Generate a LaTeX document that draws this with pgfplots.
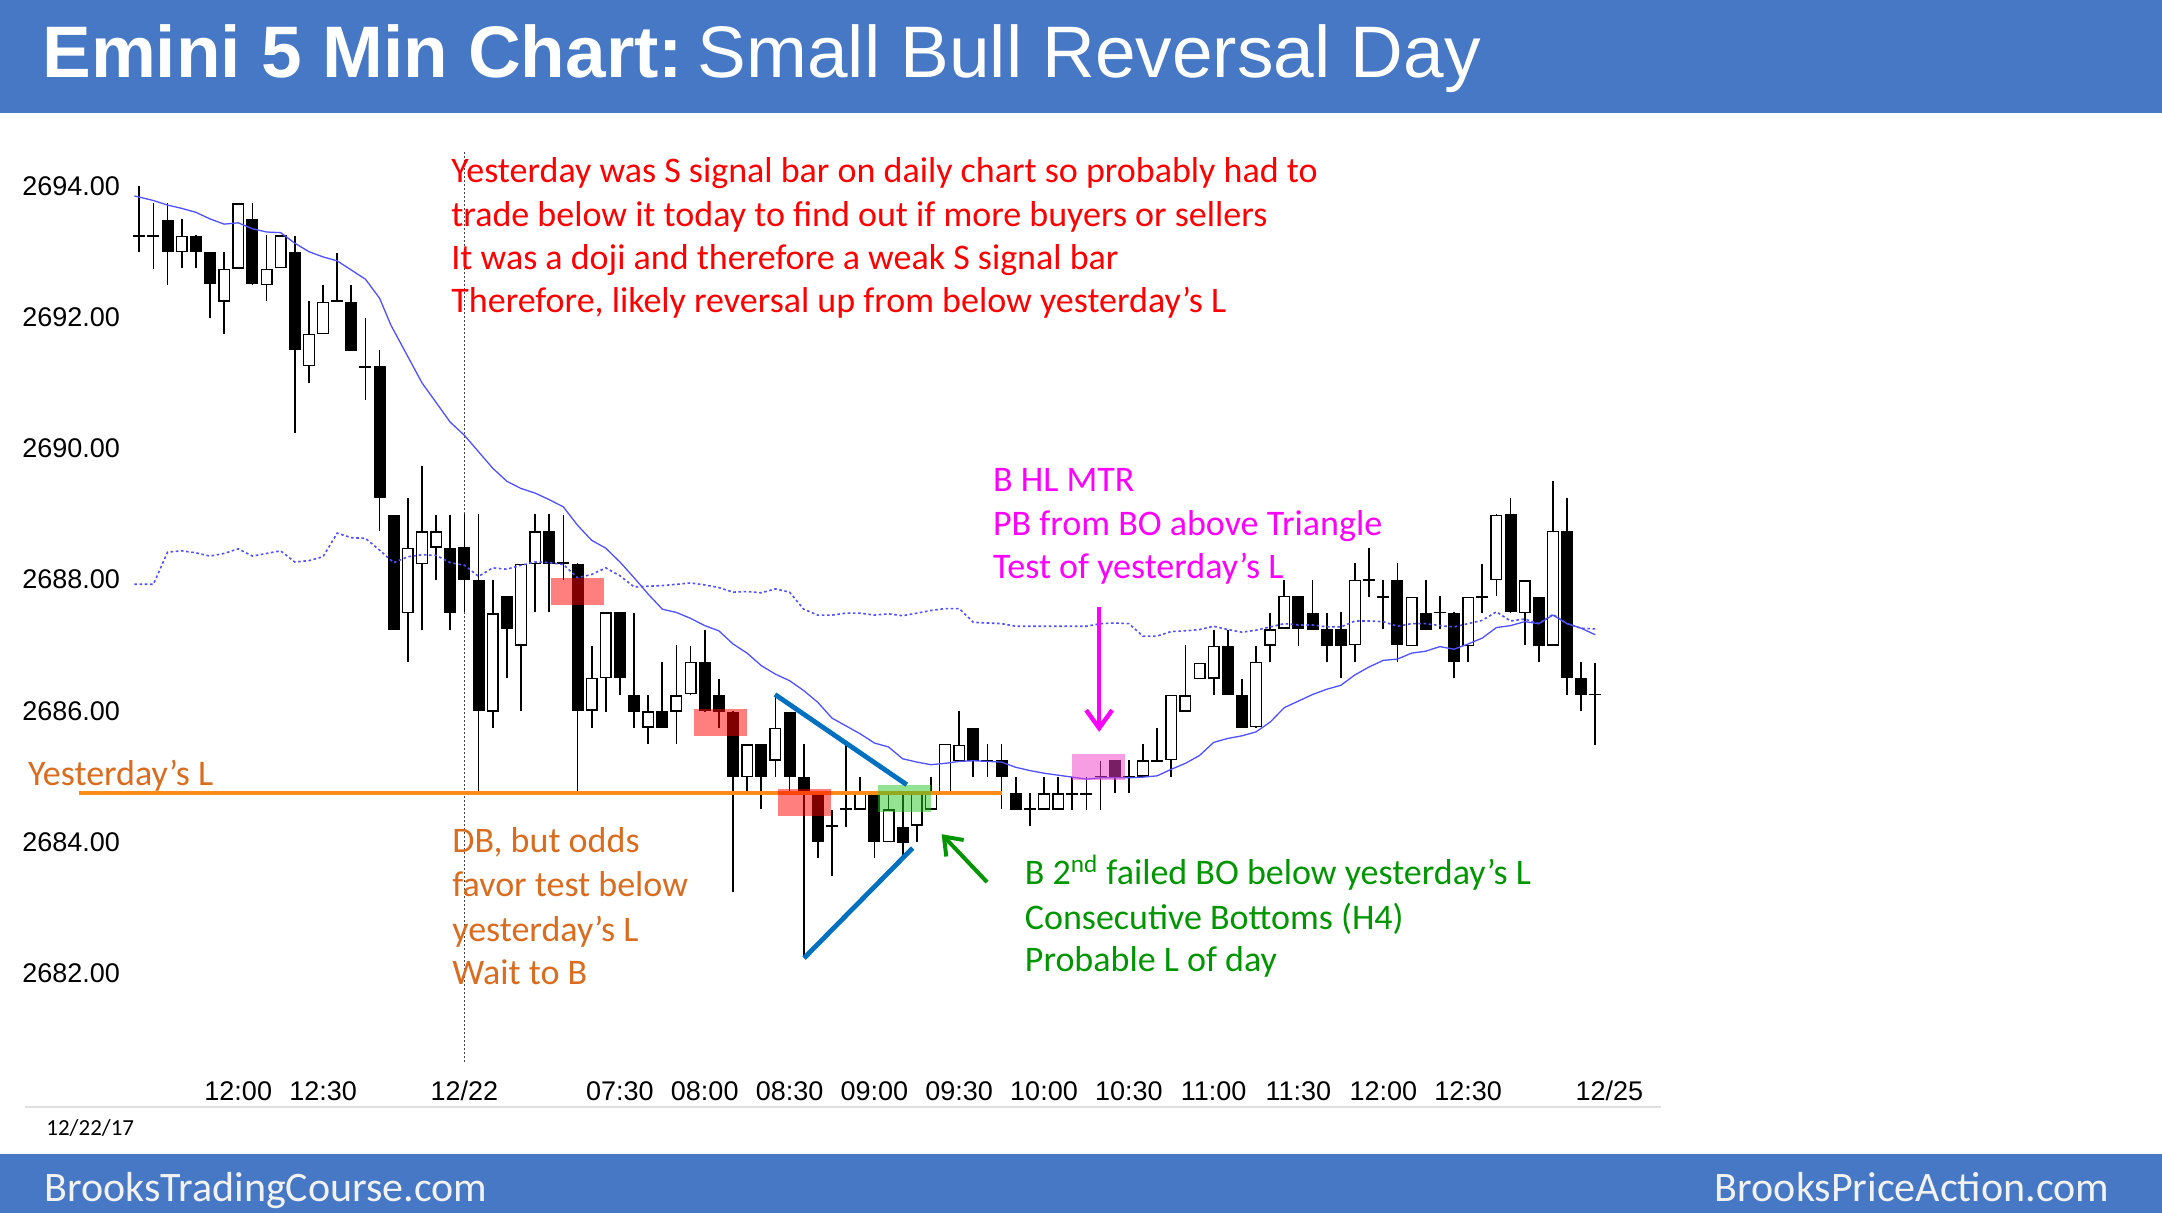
\documentclass[border=0pt]{standalone}
\usepackage{fontspec}
\setmainfont{Carlito}
\newfontfamily\arial{Liberation Sans}
\usepackage{pgfplots}
\pgfplotsset{compat=1.18}
\usepackage{pgfplotstable}
\usetikzlibrary{arrows.meta}
\definecolor{barblue}{RGB}{70,120,197}
\definecolor{footgray}{RGB}{242,242,242}
\definecolor{ylorange}{RGB}{255,140,25}
\definecolor{txtorange}{RGB}{218,108,32}
\definecolor{txtgreen}{RGB}{0,150,0}
\definecolor{tribl}{RGB}{0,112,192}
\definecolor{emablue}{RGB}{80,80,255}
\definecolor{rectgreen}{RGB}{40,200,40}
\definecolor{rectpink}{RGB}{240,60,200}
\definecolor{mag}{RGB}{255,0,255}
\definecolor{pured}{RGB}{255,0,0}

\pgfplotstableread{
x o h l c
1 2693.25 2694 2693 2693.25
2 2693.25 2693.75 2692.75 2693.25
3 2693.5 2693.75 2692.5 2693
4 2693 2693.5 2692.75 2693.25
5 2693.25 2693.25 2692.75 2693
6 2693 2693 2692 2692.5
7 2692.25 2693 2691.75 2692.75
8 2692.75 2693.75 2692.75 2693.75
9 2693.5 2693.75 2692.5 2692.5
10 2692.5 2693.25 2692.25 2692.75
11 2692.75 2693.25 2692.75 2693.25
12 2693 2693.25 2690.25 2691.5
13 2691.25 2692.25 2691 2691.75
14 2691.75 2692.5 2691.75 2692.25
15 2692.25 2693 2692.25 2692.25
16 2692.25 2692.5 2691.5 2691.5
17 2691.25 2692 2690.75 2691.25
18 2691.25 2691.5 2688.75 2689.25
19 2689 2689 2687.25 2687.25
20 2687.5 2689.25 2686.75 2688.5
21 2688.25 2689.75 2687.25 2688.75
22 2688.5 2689 2688 2688.75
23 2688.5 2689 2687.25 2687.5
24 2688.5 2689 2687.5 2688
25 2688 2689 2684.75 2686
26 2686 2688 2685.75 2687.5
27 2687.75 2687.75 2686.5 2687.25
28 2687 2688.25 2686 2688.25
29 2688.25 2689 2687.5 2688.75
30 2688.75 2689 2687.5 2688.25
31 2688.25 2689 2688 2688.25
32 2688.25 2688.25 2684.75 2686
33 2686 2687 2685.75 2686.5
34 2686.5 2687.5 2686 2687.5
35 2687.5 2687.5 2686.25 2686.5
36 2686.25 2687.5 2685.75 2686
37 2685.75 2686.25 2685.5 2686
38 2686 2686.75 2685.75 2685.75
39 2686 2687 2685.5 2686.25
40 2686.25 2687 2686.25 2686.75
41 2686.75 2687.25 2686 2686
42 2686.25 2686.5 2685.75 2686
43 2686 2686 2683.25 2685
44 2685 2685.5 2684.75 2685.5
45 2685.5 2685.5 2684.5 2685
46 2685.25 2686.25 2685 2685.75
47 2686 2686 2684.75 2685
48 2685 2685.5 2682.25 2684.75
49 2684.75 2684.75 2683.75 2684
50 2684.25 2684.5 2683.5 2684.25
51 2684.5 2685.5 2684.25 2684.5
52 2684.5 2685 2684.5 2684.75
53 2684.75 2684.75 2683.75 2684
54 2684 2684.75 2684 2684.5
55 2684.25 2684.75 2683.75 2684
56 2684.25 2684.75 2684 2684.75
57 2684.5 2685 2684.5 2684.75
58 2684.75 2685.5 2684.75 2685.5
59 2685.25 2686 2685.25 2685.5
60 2685.75 2685.75 2685 2685.25
61 2685.25 2685.5 2685 2685.25
62 2685.25 2685.5 2684.5 2685
63 2684.75 2685 2684.5 2684.5
64 2684.5 2684.75 2684.25 2684.5
65 2684.5 2685 2684.5 2684.75
66 2684.5 2685 2684.5 2684.75
67 2684.75 2685 2684.5 2684.75
68 2684.75 2685 2684.5 2684.75
69 2685 2685.25 2684.5 2685
70 2685.25 2685.25 2684.75 2685
71 2685 2685.25 2684.75 2685
72 2685 2685.5 2685 2685.25
73 2685.25 2685.75 2685.25 2685.25
74 2685.25 2686.25 2685 2686.25
75 2686 2687 2686 2686.25
76 2686.5 2686.75 2686.5 2686.75
77 2686.5 2687.25 2686.25 2687
78 2687 2687.25 2686.25 2686.25
79 2686.25 2686.5 2685.75 2685.75
80 2685.75 2687 2685.75 2686.75
81 2687 2687.5 2686.75 2687.25
82 2687.25 2688 2687.25 2687.75
83 2687.75 2687.75 2687 2687.25
84 2687.5 2688 2687.25 2687.25
85 2687.25 2687.5 2686.75 2687
86 2687.25 2687.5 2686.5 2687
87 2687 2688.25 2686.75 2688
88 2688 2688.5 2687.75 2688
89 2687.75 2688 2687.25 2687.75
90 2688 2688.25 2686.75 2687
91 2687 2687.75 2687 2687.75
92 2687.5 2688 2687.25 2687.25
93 2687.5 2687.75 2687.25 2687.5
94 2687.5 2687.5 2686.5 2686.75
95 2687 2687.75 2686.75 2687.75
96 2687.75 2688.25 2687.5 2687.75
97 2688 2689 2687.75 2689
98 2689 2689.25 2687.5 2687.5
99 2687.5 2688 2687 2688
100 2687.75 2687.75 2686.75 2687
101 2687 2689.5 2687 2688.75
102 2688.75 2689.25 2686.25 2686.5
103 2686.5 2686.75 2686 2686.25
104 2686.25 2686.75 2685.5 2686.25
}\candles

\pgfplotstableread{
x y
0.65 2693.85
2 2693.78
3 2693.71
4 2693.66
5 2693.60
6 2693.50
7 2693.42
8 2693.44
9 2693.35
10 2693.30
11 2693.29
12 2693.13
13 2693.00
14 2692.92
15 2692.86
16 2692.72
17 2692.58
18 2692.29
18.8 2691.88
20 2691.40
21 2691.00
22 2690.70
23 2690.40
24 2690.20
25 2689.95
26 2689.70
27 2689.50
28 2689.39
29 2689.32
30 2689.22
31 2689.11
32 2688.83
33 2688.60
34 2688.48
35 2688.27
36 2688.03
37 2687.78
38 2687.55
39 2687.50
40 2687.41
41 2687.30
42 2687.22
43 2687.02
44 2686.88
45 2686.69
46 2686.56
47 2686.46
48 2686.31
49 2686.13
50 2685.89
51 2685.77
52 2685.65
53 2685.51
54 2685.45
55 2685.27
56 2685.22
57 2685.18
58 2685.20
59 2685.23
60 2685.24
61 2685.23
62 2685.22
63 2685.14
64 2685.09
65 2685.05
66 2685.02
67 2684.99
68 2684.96
69 2684.98
70 2684.98
71 2684.98
72 2684.99
73 2685.01
74 2685.11
75 2685.20
76 2685.32
77 2685.52
78 2685.58
79 2685.62
80 2685.68
81 2685.83
82 2686.05
83 2686.15
84 2686.25
85 2686.33
86 2686.39
87 2686.55
88 2686.67
89 2686.77
90 2686.79
91 2686.88
92 2686.91
93 2686.98
94 2686.94
95 2687.02
96 2687.11
97 2687.27
98 2687.30
99 2687.36
100 2687.33
101 2687.46
102 2687.33
103 2687.26
104 2687.16
}\ema

\pgfplotstableread{
x y
0.65 2687.93
2 2687.93
3 2688.42
4 2688.44
5 2688.41
6 2688.36
7 2688.40
8 2688.47
9 2688.36
10 2688.40
11 2688.44
12 2688.27
13 2688.29
14 2688.35
15 2688.71
16 2688.64
17 2688.63
18 2688.45
19 2688.26
20 2688.35
21 2688.38
22 2688.37
23 2688.26
24 2688.22
25 2688.05
26 2688.18
27 2688.16
28 2688.22
29 2688.27
30 2688.26
31 2688.23
32 2688.03
33 2688.08
34 2688.18
35 2688.06
36 2687.89
37 2687.90
38 2687.91
39 2687.93
40 2687.95
41 2687.92
42 2687.88
43 2687.81
44 2687.82
45 2687.80
46 2687.86
47 2687.81
48 2687.55
49 2687.46
50 2687.46
51 2687.49
52 2687.49
53 2687.46
54 2687.48
55 2687.45
56 2687.49
57 2687.53
58 2687.56
59 2687.56
60 2687.35
61 2687.34
62 2687.33
63 2687.29
64 2687.29
65 2687.29
66 2687.29
67 2687.29
68 2687.29
69 2687.33
70 2687.34
71 2687.33
72 2687.14
73 2687.14
74 2687.21
75 2687.22
76 2687.24
77 2687.29
78 2687.24
79 2687.20
80 2687.23
81 2687.28
82 2687.33
83 2687.31
84 2687.31
85 2687.28
86 2687.28
87 2687.37
88 2687.37
89 2687.36
90 2687.29
91 2687.33
92 2687.33
93 2687.30
94 2687.28
95 2687.33
96 2687.38
97 2687.51
98 2687.37
99 2687.40
100 2687.33
101 2687.47
102 2687.33
103 2687.26
104 2687.25
}\dotma

\begin{document}
\begin{tikzpicture}
\useasboundingbox (0,0) rectangle (1081pt,606.5pt);
\fill[white] (0,0) rectangle (1081pt,606.5pt);
\fill[barblue] (0,550pt) rectangle (1081pt,606.5pt);
\fill[barblue] (0,0) rectangle (1081pt,29.5pt);
\node[anchor=base west, inner sep=0pt, text=white] at (21pt,567.5pt)
  {\arial\fontsize{36.5}{40}\selectfont\bfseries Emini 5 Min Chart:\hspace{0.2em}\mdseries Small Bull Reversal Day};
\node[anchor=base west, inner sep=0pt, text=footgray] at (22pt,5.5pt)
  {\fontsize{21}{24}\selectfont BrooksTradingCourse.com};
\node[anchor=base east, inner sep=0pt, text=footgray] at (1054.8pt,5.5pt)
  {\fontsize{21}{24}\selectfont BrooksPriceAction.com};
\node[anchor=base west, inner sep=0pt] at (23pt,38.5pt)
  {\fontsize{11.5}{14}\selectfont 12/22/17};
\draw[black!12, line width=0.7pt] (12.5pt,53pt) -- (830.5pt,53pt);

\begin{axis}[
  at={(13.1pt,70.65pt)}, anchor=south west,
  scale only axis, width=819.9pt, height=478.88pt,
  xmin=-7, xmax=109, ymin=2680.5, ymax=2695.1,
  axis line style={draw=none},
  tick style={draw=none},
  major tick length=0pt,
  clip=false,
  xtick={8,14,24,35,41,47,53,59,65,71,77,83,89,95,105},
  xticklabels={12:00,12:30,12/22,07:30,08:00,08:30,09:00,09:30,10:00,10:30,11:00,11:30,12:00,12:30,12/25},
  ytick={2682,2684,2686,2688,2690,2692,2694},
  yticklabels={2682.00,2684.00,2686.00,2688.00,2690.00,2692.00,2694.00},
  xticklabel style={anchor=base, yshift=-14.45pt, inner sep=0pt, font=\arial\fontsize{13.5}{16}\selectfont},
  yticklabel style={anchor=west, xshift=-2.1pt, inner sep=0pt, font=\arial\fontsize{13.5}{16}\selectfont},
]
% dotted day separator
\draw[black!75, line width=0.6pt, dash pattern=on 1pt off 1pt] (axis cs:24,2680.65) -- (axis cs:24,2694.55);

% wicks
\addplot[draw=none, mark=none, error bars/.cd, y dir=both, y explicit, error mark=none,
  error bar style={draw=black, line width=0.85pt}]
  table[x=x, y expr={(\thisrow{h}+\thisrow{l})/2}, y error expr={(\thisrow{h}-\thisrow{l})/2}] {\candles};
% bodies (black), doji ticks as thin bodies
\addplot[draw=none, mark=none, error bars/.cd, y dir=both, y explicit, error mark=none,
  error bar style={draw=black, line width=6pt}]
  table[x=x, y expr={(\thisrow{o}+\thisrow{c})/2}, y error expr={max(abs(\thisrow{c}-\thisrow{o})/2,0.013)}] {\candles};
% white insides of up bars
\addplot[draw=none, mark=none, error bars/.cd, y dir=both, y explicit, error mark=none,
  error bar style={draw=white, line width=4.6pt}]
  table[x=x, y expr={(\thisrow{o}+\thisrow{c})/2}, y error expr={max((\thisrow{c}-\thisrow{o})/2-0.0213,0)}] {\candles};

% moving averages
\addplot[emablue, line width=0.65pt, mark=none] table[x=x,y=y] {\ema};
\addplot[emablue, line width=0.8pt, mark=none, dash pattern=on 1.3pt off 1.3pt] table[x=x,y=y] {\dotma};

% yesterday's low
\addplot[ylorange, line width=2.15pt, mark=none] coordinates {(-3.3,2684.75) (62,2684.75)};

% shaded zones
\fill[pured, opacity=0.5] (axis cs:30.12,2687.62) rectangle (axis cs:33.85,2688.03);
\fill[pured, opacity=0.5] (axis cs:40.25,2685.62) rectangle (axis cs:43.97,2686.03);
\fill[pured, opacity=0.5] (axis cs:46.18,2684.40) rectangle (axis cs:49.93,2684.81);
\fill[rectgreen, opacity=0.5] (axis cs:53.25,2684.46) rectangle (axis cs:57.0,2684.87);
\fill[rectpink, opacity=0.5] (axis cs:67.0,2684.94) rectangle (axis cs:70.74,2685.34);

% triangle
\addplot[tribl, line width=2.4pt, mark=none] coordinates {(45.97,2686.25) (55.29,2684.875)};
\addplot[tribl, line width=2.4pt, mark=none] coordinates {(48.02,2682.23) (55.71,2683.91)};

% arrows
\draw[mag, line width=2.2pt, -{Straight Barb[length=9pt,width=13pt]}] (axis cs:68.9,2687.59) -- (axis cs:68.9,2685.68);
\draw[txtgreen, line width=2pt, -{Straight Barb[length=8pt,width=12pt]}] (axis cs:60.97,2683.39) -- (axis cs:57.76,2684.12);

% annotations
\begin{scope}[every node/.style={anchor=base west, inner sep=0pt, font=\fontsize{18}{21.6}\selectfont}]
\node[text=pured] at (axis cs:23.05,2694.047) {Yesterday was S signal bar on daily chart so probably had to};
\node[text=pured] at (axis cs:23.05,2693.387) {trade below it today to find out if more buyers or sellers};
\node[text=pured] at (axis cs:23.05,2692.727) {It was a doji and therefore a weak S signal bar};
\node[text=pured] at (axis cs:23.05,2692.067) {Therefore, likely reversal up from below yesterday’s L};

\node[text=txtorange] at (axis cs:-6.9,2684.87) {Yesterday’s L};
\node[text=txtorange] at (axis cs:23.12,2683.834) {DB, but odds};
\node[text=txtorange] at (axis cs:23.12,2683.163) {favor test below};
\node[text=txtorange] at (axis cs:23.12,2682.492) {yesterday’s L};
\node[text=txtorange] at (axis cs:23.12,2681.822) {Wait to B};

\node[text=mag] at (axis cs:61.37,2689.337) {B HL MTR};
\node[text=mag] at (axis cs:61.37,2688.672) {PB from BO above Triangle};
\node[text=mag] at (axis cs:61.37,2688.015) {Test of yesterday’s L};

\node[text=txtgreen] at (axis cs:63.62,2683.346) {B 2\textsuperscript{nd} failed BO below yesterday’s L};
\node[text=txtgreen] at (axis cs:63.62,2682.675) {Consecutive Bottoms (H4)};
\node[text=txtgreen] at (axis cs:63.62,2682.02) {Probable L of day};
\end{scope}
\end{axis}
\end{tikzpicture}
\end{document}
